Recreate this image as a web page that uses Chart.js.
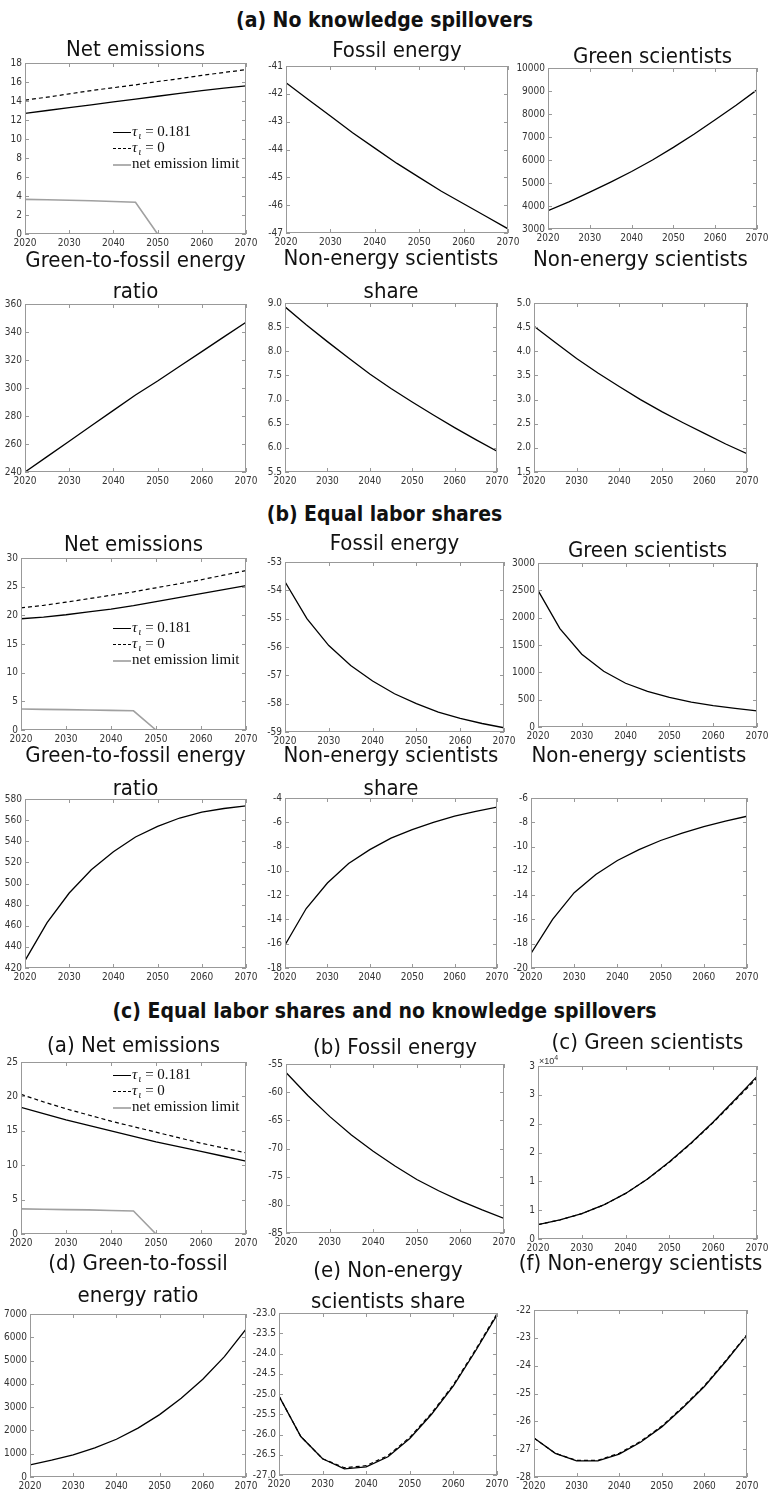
<!DOCTYPE html>
<html>
<head>
<meta charset="utf-8">
<script src="https://cdn.jsdelivr.net/npm/chart.js@4.4.0/dist/chart.umd.min.js"></script>
<style>
body { margin: 0; background: #fff; }
#page { position: relative; width: 769px; height: 1493px; overflow: hidden; background: #fff; }
canvas { position: absolute; }
.sec { position: absolute; left: 0; width: 769px; text-align: center; font-family: "Liberation Sans Narrow", "DejaVu Sans Condensed", sans-serif; font-weight: bold; font-size: 21px; color: #111; transform: translateY(-50%); }
.ttl { position: absolute; white-space: nowrap; font-family: "Liberation Sans Narrow", "DejaVu Sans Condensed", sans-serif; font-size: 22px; color: #111; transform: translate(-50%, -50%); }
.leg { position: absolute; font-family: "Liberation Serif", "DejaVu Serif", serif; font-size: 15px; color: #111; }
.leg .row { height: 16px; line-height: 16px; white-space: nowrap; }
.leg .ln { display: inline-block; width: 18px; height: 0; margin-right: 1px; vertical-align: middle; }
.leg sub { font-size: 10px; line-height: 0; vertical-align: -3px; margin: 0 4px 0 1px; font-style: italic; }
.exp { position: absolute; font-family: "Liberation Sans Narrow", sans-serif; font-size: 9px; color: #333; }
</style>
</head>
<body>
<div id="page"></div>
<script>
// years on the x axis
const years = [2020, 2025, 2030, 2035, 2040, 2045, 2050, 2055, 2060, 2065, 2070];

// (a) no knowledge spillovers
const aNetTax = [12.7, 13.0, 13.3, 13.6, 13.9, 14.2, 14.5, 14.8, 15.1, 15.35, 15.6];
const aNetNoTax = [14.1, 14.4, 14.75, 15.1, 15.4, 15.7, 16.05, 16.35, 16.7, 17.0, 17.3];
const netLimit = [3.65, 3.6, 3.55, 3.5, 3.42, 3.35, 0, 0, 0, 0, 0];
const aFossil = [-41.6, -42.2, -42.8, -43.4, -43.95, -44.5, -45.0, -45.5, -45.95, -46.4, -46.85];
const aGreenSci = [3800, 4180, 4600, 5040, 5500, 6000, 6550, 7130, 7750, 8380, 9050];
const aRatio = [240, 251, 262, 273, 284, 295, 305, 315.5, 326, 336.5, 347];
const aShare = [8.92, 8.55, 8.2, 7.86, 7.53, 7.23, 6.95, 6.68, 6.42, 6.17, 5.93];
const aNonEnergy = [4.52, 4.18, 3.85, 3.55, 3.27, 3.0, 2.75, 2.52, 2.3, 2.08, 1.88];

// (b) equal labor shares
const bNetTax = [19.4, 19.7, 20.1, 20.6, 21.1, 21.7, 22.4, 23.1, 23.8, 24.5, 25.2];
const bNetNoTax = [21.3, 21.75, 22.3, 22.9, 23.5, 24.1, 24.8, 25.5, 26.2, 27.0, 27.8];
const bFossil = [-53.7, -55.0, -55.95, -56.65, -57.2, -57.65, -58.0, -58.3, -58.52, -58.7, -58.85];
const bGreenSci = [2500, 1800, 1330, 1020, 800, 650, 540, 455, 390, 340, 295];
const bRatio = [427, 463, 491, 513, 530, 544, 554, 562, 567.5, 571, 573.5];
const bShare = [-16.1, -13.1, -11.0, -9.4, -8.25, -7.3, -6.6, -6.0, -5.5, -5.1, -4.75];
const bNonEnergy = [-18.8, -16.0, -13.8, -12.3, -11.15, -10.25, -9.5, -8.9, -8.35, -7.9, -7.5];

// (c) equal labor shares and no knowledge spillovers
const cNetTax = [18.4, 17.5, 16.6, 15.8, 15.0, 14.2, 13.4, 12.7, 12.0, 11.3, 10.6];
const cNetNoTax = [20.3, 19.2, 18.2, 17.3, 16.4, 15.6, 14.8, 14.0, 13.2, 12.5, 11.8];
const cFossil = [-56.5, -60.6, -64.3, -67.6, -70.5, -73.1, -75.5, -77.5, -79.3, -80.9, -82.4];
const cGreenSci = [2500, 3300, 4400, 5900, 7900, 10400, 13400, 16700, 20300, 24200, 28200];
const cGreenSciNoTax = [2500, 3300, 4400, 5900, 7900, 10400, 13300, 16600, 20200, 24000, 27900];
const cRatio = [520, 720, 950, 1250, 1620, 2100, 2680, 3380, 4200, 5170, 6350];
const cShare = [-25.05, -26.05, -26.6, -26.85, -26.8, -26.55, -26.1, -25.5, -24.8, -23.95, -23.05];
const cShareNoTax = [-25.05, -26.05, -26.6, -26.82, -26.77, -26.52, -26.07, -25.47, -24.77, -23.92, -23.02];
const cNonEnergy = [-26.6, -27.15, -27.42, -27.42, -27.18, -26.75, -26.2, -25.5, -24.75, -23.85, -22.9];
const cNonEnergyNoTax = [-26.6, -27.15, -27.4, -27.4, -27.15, -26.72, -26.17, -25.47, -24.72, -23.82, -22.88];

const legendLabels = ['0.181', '0', 'net emission limit'];

const page = document.getElementById('page');
const tickFont = { family: '"Liberation Sans Narrow", "DejaVu Sans Condensed", sans-serif', size: 10 };
const PADL = 40, PADB = 18, PADT = 10, PADR = 24;

const solid = d => ({ data: d, color: '#000', width: 1.3, dash: [] });
const dashed = d => ({ data: d, color: '#000', width: 1.2, dash: [4, 3] });
const limit = d => ({ data: d, color: '#a0a0a0', width: 1.6, dash: [] });

const int = v => String(Math.round(v));
const one = v => v.toFixed(1);

const panels = [
  { box: [25, 63, 246, 234], y: [0, 18, 2], fmt: int, series: [limit(netLimit), solid(aNetTax), dashed(aNetNoTax)] },
  { box: [286, 66, 508, 233], y: [-47, -41, 1], fmt: int, series: [solid(aFossil)] },
  { box: [548, 68, 757, 229], y: [3000, 10000, 1000], fmt: int, series: [solid(aGreenSci)] },
  { box: [25, 304, 246, 472], y: [240, 360, 20], fmt: int, series: [solid(aRatio)] },
  { box: [285, 303, 497, 472], y: [5.5, 9.0, 0.5], fmt: one, series: [solid(aShare)] },
  { box: [534, 303, 747, 472], y: [1.5, 5.0, 0.5], fmt: one, series: [solid(aNonEnergy)] },

  { box: [21, 558, 246, 730], y: [0, 30, 5], fmt: int, series: [limit(netLimit), solid(bNetTax), dashed(bNetNoTax)] },
  { box: [285, 562, 504, 732], y: [-59, -53, 1], fmt: int, series: [solid(bFossil)] },
  { box: [538, 563, 757, 727], y: [0, 3000, 500], fmt: int, series: [solid(bGreenSci)] },
  { box: [25, 799, 246, 968], y: [420, 580, 20], fmt: int, series: [solid(bRatio)] },
  { box: [285, 798, 497, 968], y: [-18, -4, 2], fmt: int, series: [solid(bShare)] },
  { box: [531, 798, 747, 968], y: [-20, -6, 2], fmt: int, series: [solid(bNonEnergy)] },

  { box: [21, 1062, 246, 1234], y: [0, 25, 5], fmt: int, series: [limit(netLimit), solid(cNetTax), dashed(cNetNoTax)] },
  { box: [286, 1064, 504, 1233], y: [-85, -55, 5], fmt: int, series: [solid(cFossil)] },
  { box: [538, 1066, 757, 1239], y: [0, 30000, 5000], fmt: v => String(Math.round(v / 10000)), series: [solid(cGreenSci), dashed(cGreenSciNoTax)] },
  { box: [30, 1314, 246, 1477], y: [0, 7000, 1000], fmt: int, series: [solid(cRatio)] },
  { box: [279, 1313, 497, 1475], y: [-27, -23, 0.5], fmt: one, series: [solid(cShare), dashed(cShareNoTax)] },
  { box: [534, 1310, 747, 1477], y: [-28, -22, 1], fmt: int, series: [solid(cNonEnergy), dashed(cNonEnergyNoTax)] }
];

const sections = [
  { y: 20, text: '(a) No knowledge spillovers' },
  { y: 514, text: '(b) Equal labor shares' },
  { y: 1011, text: '(c) Equal labor shares and no knowledge spillovers' }
];

// subplot titles: panel index, y centre, lines
const titles = [
  [0, [48], ['Net emissions']], [1, [49], ['Fossil energy']], [2, [55], ['Green scientists']],
  [3, [259, 290], ['Green-to-fossil energy', 'ratio']], [4, [257, 290], ['Non-energy scientists', 'share']], [5, [258], ['Non-energy scientists']],
  [6, [543], ['Net emissions']], [7, [542], ['Fossil energy']], [8, [549], ['Green scientists']],
  [9, [754, 787], ['Green-to-fossil energy', 'ratio']], [10, [754, 787], ['Non-energy scientists', 'share']], [11, [754], ['Non-energy scientists']],
  [12, [1044], ['(a) Net emissions']], [13, [1046], ['(b) Fossil energy']], [14, [1041], ['(c) Green scientists']],
  [15, [1262, 1294], ['(d) Green-to-fossil', 'energy ratio']], [16, [1269, 1300], ['(e) Non-energy', 'scientists share']], [17, [1262], ['(f) Non-energy scientists']]
];

// legends inside the net emissions panels: left, top
const legends = [[113, 123], [113, 619], [113, 1066]];

// box round the plot area and inward ticks on all four sides
const boxPlugin = {
  id: 'matBox',
  afterDatasetsDraw(chart) {
    const { ctx, chartArea: a, scales: { x, y } } = chart;
    ctx.save();
    ctx.strokeStyle = '#999';
    ctx.lineWidth = 1;
    ctx.strokeRect(Math.round(a.left) + 0.5, Math.round(a.top) + 0.5, Math.round(a.right - a.left) - 1, Math.round(a.bottom - a.top) - 1);
    ctx.beginPath();
    x.ticks.forEach(t => {
      const px = Math.round(x.getPixelForValue(t.value)) + 0.5;
      ctx.moveTo(px, a.bottom); ctx.lineTo(px, a.bottom - 4);
      ctx.moveTo(px, a.top); ctx.lineTo(px, a.top + 4);
    });
    y.ticks.forEach(t => {
      const py = Math.round(y.getPixelForValue(t.value)) + 0.5;
      ctx.moveTo(a.left, py); ctx.lineTo(a.left + 4, py);
      ctx.moveTo(a.right, py); ctx.lineTo(a.right - 4, py);
    });
    ctx.stroke();
    ctx.restore();
  }
};

function makeChart(p) {
  const [l, t, r, b] = p.box;
  const w = r - l + PADL + PADR, h = b - t + PADT + PADB;
  const cv = document.createElement('canvas');
  cv.width = w; cv.height = h;
  cv.style.left = (l - PADL) + 'px';
  cv.style.top = (t - PADT) + 'px';
  cv.style.width = w + 'px';
  cv.style.height = h + 'px';
  page.appendChild(cv);

  new Chart(cv, {
    type: 'line',
    data: {
      datasets: p.series.map(s => ({
        data: years.map((yr, i) => ({ x: yr, y: s.data[i] })),
        borderColor: s.color,
        borderWidth: s.width,
        borderDash: s.dash,
        pointRadius: 0,
        tension: 0,
        fill: false
      }))
    },
    options: {
      responsive: false,
      animation: false,
      devicePixelRatio: 1,
      layout: { padding: { left: 0, top: PADT, right: PADR, bottom: 0 } },
      plugins: { legend: { display: false }, tooltip: { enabled: false } },
      scales: {
        x: {
          type: 'linear', min: 2020, max: 2070,
          grid: { display: false, drawTicks: false }, border: { display: false },
          ticks: { stepSize: 10, padding: 3, maxRotation: 0, autoSkip: false, color: '#333', font: tickFont, callback: v => String(v) },
          afterFit: s => { s.height = PADB; s.paddingLeft = 0; s.paddingRight = 0; }
        },
        y: {
          min: p.y[0], max: p.y[1],
          grid: { display: false, drawTicks: false }, border: { display: false },
          ticks: { stepSize: p.y[2], padding: 3, autoSkip: false, color: '#333', font: tickFont, callback: v => p.fmt(v) },
          afterFit: s => { s.width = PADL; s.paddingTop = 0; s.paddingBottom = 0; }
        }
      }
    },
    plugins: [boxPlugin]
  });
}

panels.forEach(makeChart);

sections.forEach(s => {
  const d = document.createElement('div');
  d.className = 'sec';
  d.style.top = s.y + 'px';
  d.textContent = s.text;
  page.appendChild(d);
});

titles.forEach(([i, ys, lines]) => {
  const [l, , r] = panels[i].box;
  lines.forEach((txt, k) => {
    const d = document.createElement('div');
    d.className = 'ttl';
    d.style.left = ((l + r) / 2) + 'px';
    d.style.top = ys[k] + 'px';
    d.textContent = txt;
    page.appendChild(d);
  });
});

legends.forEach(([lx, ly]) => {
  const box = document.createElement('div');
  box.className = 'leg';
  box.style.left = lx + 'px';
  box.style.top = ly + 'px';
  const styles = ['border-top:1.5px solid #000', 'border-top:1.5px dashed #000', 'border-top:2px solid #b0b0b0'];
  legendLabels.forEach((lab, k) => {
    const row = document.createElement('div');
    row.className = 'row';
    const ln = document.createElement('span');
    ln.className = 'ln';
    ln.style.cssText = styles[k];
    row.appendChild(ln);
    if (k < 2) {
      const tau = document.createElement('i');
      tau.textContent = 'τ';
      const sub = document.createElement('sub');
      sub.textContent = 'ι';
      row.appendChild(tau);
      row.appendChild(sub);
      row.appendChild(document.createTextNode('= ' + lab));
    } else {
      row.appendChild(document.createTextNode(lab));
    }
    box.appendChild(row);
  });
  page.appendChild(box);
});

// exponent label of the (c) green scientists axis
const exp = document.createElement('div');
exp.className = 'exp';
exp.style.left = (panels[14].box[0] + 1) + 'px';
exp.style.top = (panels[14].box[1] - 12) + 'px';
exp.innerHTML = '×10<sup style="font-size:7px">4</sup>';
page.appendChild(exp);
</script>
</body>
</html>
